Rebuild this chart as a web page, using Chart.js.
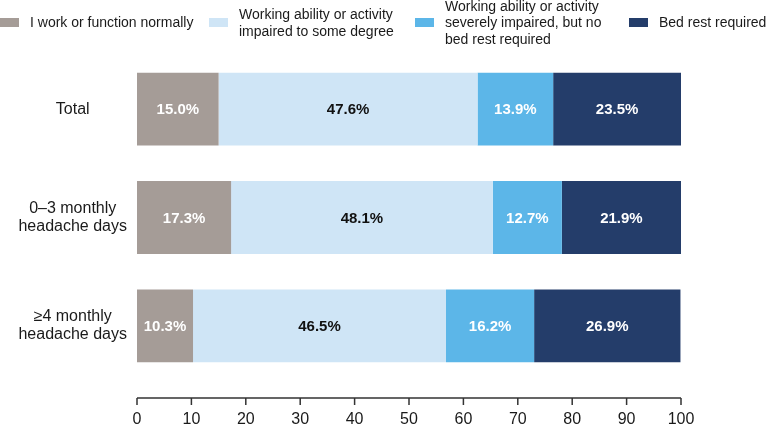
<!DOCTYPE html>
<html>
<head>
<meta charset="utf-8">
<script src="https://cdn.jsdelivr.net/npm/chart.js@4.4.1/dist/chart.umd.min.js"></script>
<style>
  html, body { margin: 0; padding: 0; background: #fff; }
  #wrap { position: relative; width: 767px; height: 424px; }
  #chart { position: absolute; left: 0; top: 0; }
  .legend-item { position: absolute; top: 0; height: 45px; display: flex; align-items: center;
    font-family: "Liberation Sans", Arial, sans-serif; font-size: 14px; line-height: 16.5px; color: #1a1a1a; }
  .legend-box { width: 19px; height: 9px; margin-right: 11px; flex: none; }
</style>
</head>
<body>
<div id="wrap">
  <canvas id="chart" width="767" height="424"></canvas>
</div>
<script>
"use strict";

// Chart data
var categories = [["Total"], ["0–3 monthly", "headache days"], ["≥4 monthly", "headache days"]];
var seriesNames = [
    ["I work or function normally"],
    ["Working ability or activity", "impaired to some degree"],
    ["Working ability or activity", "severely impaired, but no", "bed rest required"],
    ["Bed rest required"]
];
var normalValues = [15.0, 17.3, 10.3];
var someDegreeValues = [47.6, 48.1, 46.5];
var severeValues = [13.9, 12.7, 16.2];
var bedRestValues = [23.5, 21.9, 26.9];
var xTickValues = [0, 10, 20, 30, 40, 50, 60, 70, 80, 90, 100];

var seriesColors = ["#A59C97", "#CFE5F6", "#5CB6E8", "#243D6A"];
var labelColors = ["#ffffff", "#111111", "#ffffff", "#ffffff"];
var legendLeft = [0, 209, 415, 629];

// HTML legend (multi-line labels)
var wrap = document.getElementById("wrap");
seriesNames.forEach(function (lines, i) {
    var item = document.createElement("div");
    item.className = "legend-item";
    item.style.left = legendLeft[i] + "px";
    var box = document.createElement("div");
    box.className = "legend-box";
    box.style.background = seriesColors[i];
    var text = document.createElement("div");
    text.innerHTML = lines.join("<br>");
    item.appendChild(box);
    item.appendChild(text);
    wrap.appendChild(item);
});

// Percent labels in each bar segment
var segmentLabels = {
    id: "segmentLabels",
    afterDatasetsDraw: function (chart) {
        var ctx = chart.ctx;
        ctx.save();
        ctx.font = "bold 15px 'Liberation Sans', Arial, sans-serif";
        ctx.textAlign = "center";
        ctx.textBaseline = "middle";
        chart.data.datasets.forEach(function (ds, di) {
            var meta = chart.getDatasetMeta(di);
            meta.data.forEach(function (bar, i) {
                ctx.fillStyle = labelColors[di];
                ctx.fillText(ds.data[i].toFixed(1) + "%", (bar.x + bar.base) / 2, bar.y + 1);
            });
        });
        ctx.restore();
    }
};

// x axis line sits a little below the bars
var axisLine = {
    id: "axisLine",
    afterDraw: function (chart) {
        var ctx = chart.ctx;
        var x = chart.scales.x;
        var y = chart.chartArea.bottom + 18;
        ctx.save();
        ctx.strokeStyle = "#333333";
        ctx.lineWidth = 1.5;
        ctx.beginPath();
        ctx.moveTo(x.getPixelForValue(0), y);
        ctx.lineTo(x.getPixelForValue(100), y);
        xTickValues.forEach(function (v) {
            var px = x.getPixelForValue(v);
            ctx.moveTo(px, y);
            ctx.lineTo(px, y + 7);
        });
        ctx.stroke();
        ctx.restore();
    }
};

var datasetValues = [normalValues, someDegreeValues, severeValues, bedRestValues];

var config = {
    type: "bar",
    data: {
        labels: categories,
        datasets: datasetValues.map(function (vals, i) {
            return {
                label: seriesNames[i].join(" "),
                data: vals,
                backgroundColor: seriesColors[i],
                borderWidth: 0,
                barPercentage: 0.672,
                categoryPercentage: 1
            };
        })
    },
    options: {
        indexAxis: "y",
        responsive: false,
        animation: false,
        devicePixelRatio: 1,
        layout: {
            padding: { left: 0, right: 86, top: 55, bottom: 0 }
        },
        scales: {
            x: {
                stacked: true,
                min: 0,
                max: 100,
                grid: { display: false, drawTicks: false },
                border: { display: false },
                ticks: {
                    stepSize: 10,
                    padding: 30,
                    color: "#1a1a1a",
                    font: { family: "'Liberation Sans Narrow', 'Liberation Sans', Arial, sans-serif", size: 16 }
                },
                afterFit: function (scale) {
                    scale.height = 44;
                }
            },
            y: {
                stacked: true,
                grid: { display: false, drawTicks: false },
                border: { display: false },
                ticks: {
                    padding: 10,
                    crossAlign: "center",
                    color: "#1a1a1a",
                    font: { family: "'Liberation Sans', Arial, sans-serif", size: 16, lineHeight: 1.1 }
                },
                afterFit: function (scale) {
                    scale.width = 137;
                }
            }
        },
        plugins: {
            legend: { display: false },
            tooltip: { enabled: false }
        }
    },
    plugins: [segmentLabels, axisLine]
};

new Chart(document.getElementById("chart").getContext("2d"), config);
</script>
</body>
</html>
